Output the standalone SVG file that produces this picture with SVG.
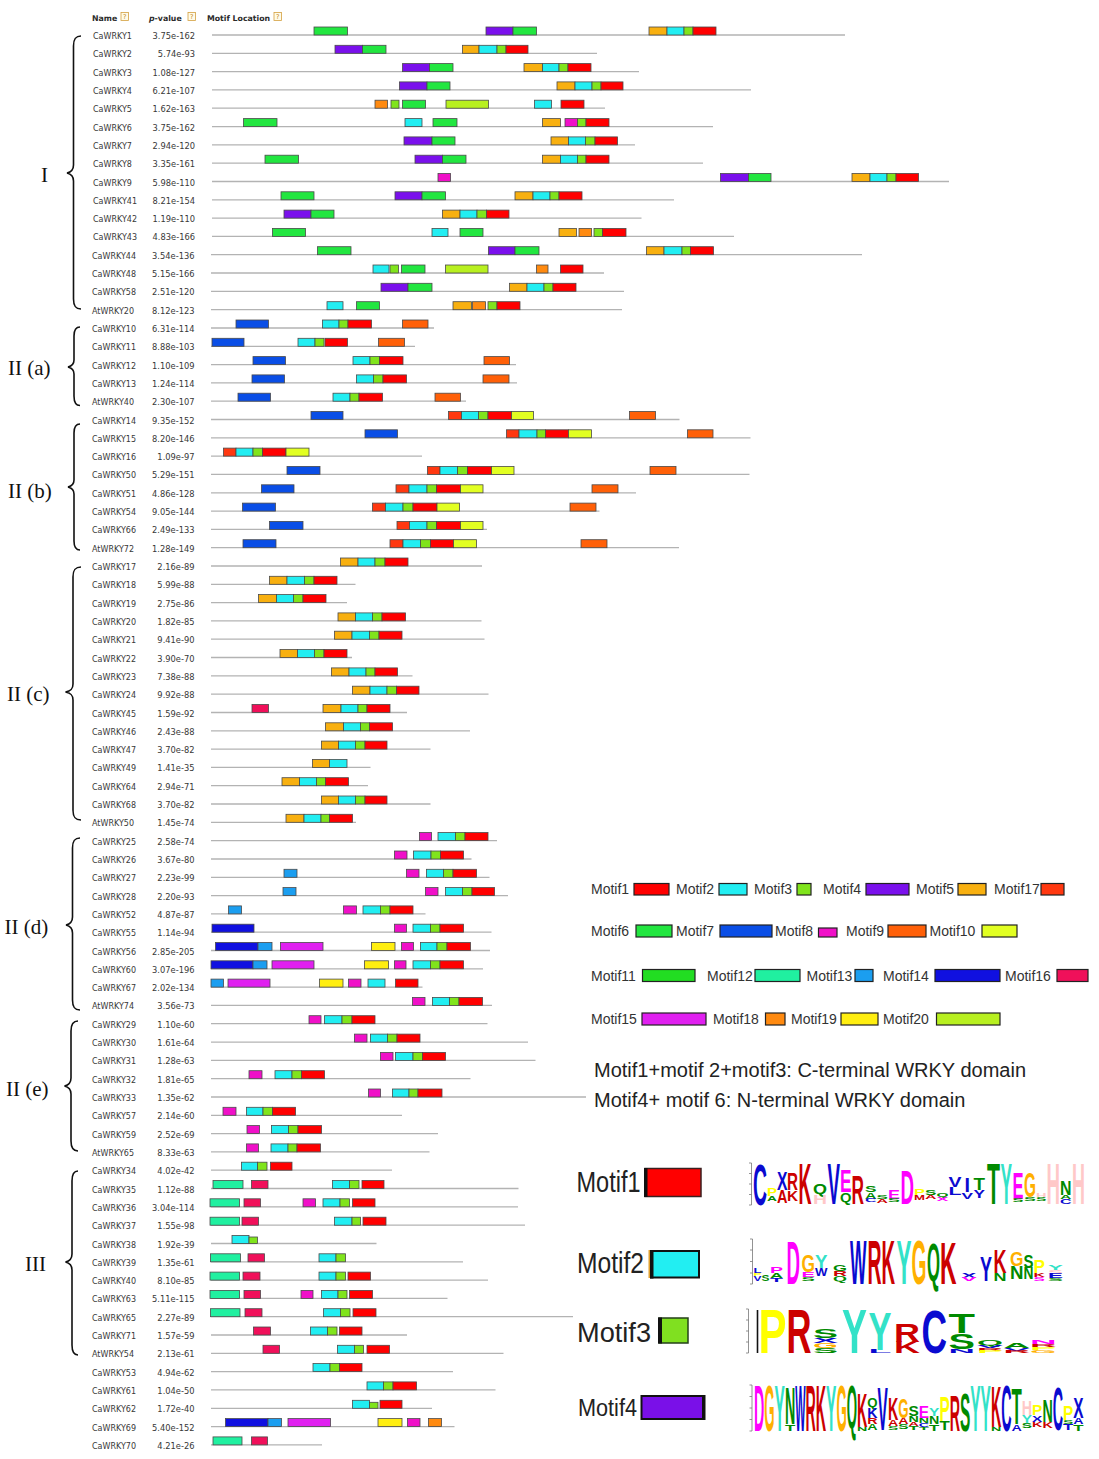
<svg xmlns="http://www.w3.org/2000/svg" width="1099" height="1459" viewBox="0 0 1099 1459">
<style>
.nm{font-family:"DejaVu Sans",Verdana,sans-serif;font-size:8px;fill:#383838}
.pv{font-family:"DejaVu Sans",Verdana,sans-serif;font-size:8.3px;fill:#383838;text-anchor:end}
.hd{font-family:"DejaVu Sans",Verdana,sans-serif;font-size:7.8px;font-weight:bold;fill:#2a2a2a}
.qi{fill:#fffbe8;stroke:#d4a040;stroke-width:.8}
.qt{font-family:"DejaVu Sans",sans-serif;font-size:6.5px;fill:#c08020;text-anchor:middle}
.bb{stroke:#b3b3b3;stroke-width:1.3}
.row rect{stroke:#4a4a4a;stroke-width:.8}
.lgd rect{stroke:#222;stroke-width:1.2}
.m1{fill:#ff0000}.m2{fill:#22eef2}.m3{fill:#80e41c}.m4{fill:#7a10ec}.m5{fill:#f8b010}
.m6{fill:#22e640}.m7{fill:#0a4ee6}.m8{fill:#f010c8}.m9{fill:#ff6008}.m10{fill:#e2ff22}
.m11{fill:#22dd22}.m12{fill:#20f0a0}.m13{fill:#1b9ef0}.m14{fill:#1010e0}.m15{fill:#e020f0}
.m16{fill:#f0105a}.m17{fill:#ff3810}.m18{fill:#ff8a10}.m19{fill:#ffee10}.m20{fill:#b8f020}
.grp{font-family:"Liberation Serif","Times New Roman",serif;font-size:21px;fill:#111}
.br{fill:none;stroke:#111;stroke-width:1.6}
.lt{font-family:"Liberation Sans",Arial,sans-serif;font-size:14px;fill:#333}
.dt{font-family:"Liberation Sans",Arial,sans-serif;font-size:20px;fill:#222}
.bt{font-family:"Liberation Sans",Arial,sans-serif;fill:#222}
.L{font-family:"Liberation Sans",Arial,sans-serif;font-weight:bold;font-size:10px}
.cb{fill:#0a0ad0}.cr{fill:#cc0000}.cg{fill:#008a00}.cy{fill:#ffff00}.cm{fill:#ff00ff}.ct{fill:#33e2c8}.co{fill:#ffb000}.cp{fill:#ffc8c8}
.ax{stroke:#777;stroke-width:.8;fill:none}
</style>

<g id="header">
<text class="hd" x="92" y="20.5">Name</text>
<rect class="qi" x="121" y="12.5" width="7.5" height="8"/><text class="qt" x="124.8" y="19.3">?</text>
<text class="hd" x="149" y="20.5"><tspan font-style="italic">p</tspan>-value</text>
<rect class="qi" x="188" y="12.5" width="7.5" height="8"/><text class="qt" x="191.8" y="19.3">?</text>
<text class="hd" x="207" y="20.5">Motif Location</text>
<rect class="qi" x="274" y="12.5" width="7.5" height="8"/><text class="qt" x="277.8" y="19.3">?</text>
</g>

<g id="group-labels">
<text class="grp" x="41" y="181.5">I</text>
<text class="grp" x="8" y="375">II (a)</text>
<text class="grp" x="8" y="498">II (b)</text>
<text class="grp" x="7" y="701">II (c)</text>
<text class="grp" x="4.5" y="934">II (d)</text>
<text class="grp" x="6" y="1096">II (e)</text>
<text class="grp" x="25" y="1271">III</text>
</g>

<g id="connectors">
<path class="br" d="M81,36 C75.5,36 73.5,39 73.5,46 L73.5,165 C73.5,170 71.5,172 67,173 C71.5,174 73.5,176 73.5,181 L73.5,299 C73.5,306 75.5,309 81,309"/>
<path class="br" d="M80,327 C76,327 74,330 74,336 L74,360 C74,364 72,366 68,367 C72,368 74,370 74,374 L74,396 C74,402 76,405.5 80,405.5"/>
<path class="br" d="M80,424 C76,424 74,427 74,433 L74,480 C74,484 72,486 68,487 C72,488 74,490 74,494 L74,541 C74,547 76,550 80,550"/>
<path class="br" d="M81,567 C75,567 73,570 73,577 L73,684 C73,689 71,691 65.5,692 C71,693 73,695 73,700 L73,810 C73,817 75,820 81,820"/>
<path class="br" d="M80,838 C74.5,838 72.5,841 72.5,848 L72.5,917 C72.5,922 70.5,924 66,925 C70.5,926 72.5,928 72.5,933 L72.5,1000 C72.5,1007 74.5,1010 80,1010"/>
<path class="br" d="M78,1021 C73,1021 71,1024 71,1031 L71,1078 C71,1083 69,1085 64.5,1086 C69,1087 71,1089 71,1094 L71,1141 C71,1148 73,1151 78,1151"/>
<path class="br" d="M78,1171 C74,1171 72,1174 72,1181 L72,1254 C72,1259 70,1261 65.5,1262 C70,1263 72,1265 72,1270 L72,1345 C72,1352 74,1355 78,1355"/>
</g>

<g id="rows">
<g id="CaWRKY1" class="row" transform="translate(0,35)"><text class="nm" x="93" y="4">CaWRKY1</text><text class="pv" x="195" y="4">3.75e-162</text><line class="bb" x1="212" x2="845"/>
<rect class="m6" x="314" y="-8" width="33.5" height="8"/><rect class="m4" x="486" y="-8" width="27" height="8"/><rect class="m6" x="513" y="-8" width="23.5" height="8"/><rect class="m5" x="649" y="-8" width="18" height="8"/><rect class="m2" x="667" y="-8" width="17" height="8"/><rect class="m3" x="684" y="-8" width="9" height="8"/><rect class="m1" x="693" y="-8" width="23" height="8"/></g>
<g id="CaWRKY2" class="row" transform="translate(0,53.3)"><text class="nm" x="93" y="4">CaWRKY2</text><text class="pv" x="195" y="4">5.74e-93</text><line class="bb" x1="212" x2="597"/>
<rect class="m4" x="335" y="-8" width="27.5" height="8"/><rect class="m6" x="362.5" y="-8" width="23.5" height="8"/><rect class="m5" x="462.5" y="-8" width="16.5" height="8"/><rect class="m2" x="479" y="-8" width="18" height="8"/><rect class="m3" x="497" y="-8" width="9" height="8"/><rect class="m1" x="506" y="-8" width="22" height="8"/></g>
<g id="CaWRKY3" class="row" transform="translate(0,71.6)"><text class="nm" x="93" y="4">CaWRKY3</text><text class="pv" x="195" y="4">1.08e-127</text><line class="bb" x1="212" x2="639"/>
<rect class="m4" x="402.5" y="-8" width="27" height="8"/><rect class="m6" x="429.5" y="-8" width="23.5" height="8"/><rect class="m5" x="524" y="-8" width="18.5" height="8"/><rect class="m2" x="542.5" y="-8" width="16.5" height="8"/><rect class="m3" x="559" y="-8" width="9" height="8"/><rect class="m1" x="568" y="-8" width="23" height="8"/></g>
<g id="CaWRKY4" class="row" transform="translate(0,89.9)"><text class="nm" x="93" y="4">CaWRKY4</text><text class="pv" x="195" y="4">6.21e-107</text><line class="bb" x1="212" x2="751"/>
<rect class="m4" x="399.5" y="-8" width="27.5" height="8"/><rect class="m6" x="427" y="-8" width="23" height="8"/><rect class="m5" x="557" y="-8" width="18" height="8"/><rect class="m2" x="575" y="-8" width="17" height="8"/><rect class="m3" x="592" y="-8" width="9" height="8"/><rect class="m1" x="601" y="-8" width="22" height="8"/></g>
<g id="CaWRKY5" class="row" transform="translate(0,108.2)"><text class="nm" x="93" y="4">CaWRKY5</text><text class="pv" x="195" y="4">1.62e-163</text><line class="bb" x1="212" x2="605"/>
<rect class="m18" x="375" y="-8" width="12.5" height="8"/><rect class="m3" x="391" y="-8" width="8" height="8"/><rect class="m6" x="402.5" y="-8" width="23" height="8"/><rect class="m20" x="446" y="-8" width="42.5" height="8"/><rect class="m2" x="534.5" y="-8" width="17" height="8"/><rect class="m1" x="561" y="-8" width="23" height="8"/></g>
<g id="CaWRKY6" class="row" transform="translate(0,126.6)"><text class="nm" x="93" y="4">CaWRKY6</text><text class="pv" x="195" y="4">3.75e-162</text><line class="bb" x1="212" x2="713"/>
<rect class="m6" x="243.5" y="-8" width="33.5" height="8"/><rect class="m2" x="405" y="-8" width="17" height="8"/><rect class="m6" x="433" y="-8" width="24" height="8"/><rect class="m5" x="542.5" y="-8" width="18" height="8"/><rect class="m8" x="565" y="-8" width="12.5" height="8"/><rect class="m3" x="577.5" y="-8" width="8.5" height="8"/><rect class="m1" x="586" y="-8" width="23" height="8"/></g>
<g id="CaWRKY7" class="row" transform="translate(0,144.9)"><text class="nm" x="93" y="4">CaWRKY7</text><text class="pv" x="195" y="4">2.94e-120</text><line class="bb" x1="212" x2="635"/>
<rect class="m4" x="404" y="-8" width="28" height="8"/><rect class="m6" x="432" y="-8" width="23" height="8"/><rect class="m5" x="551" y="-8" width="17.5" height="8"/><rect class="m2" x="568.5" y="-8" width="17" height="8"/><rect class="m3" x="585.5" y="-8" width="9.5" height="8"/><rect class="m1" x="595" y="-8" width="22.5" height="8"/></g>
<g id="CaWRKY8" class="row" transform="translate(0,163.2)"><text class="nm" x="93" y="4">CaWRKY8</text><text class="pv" x="195" y="4">3.35e-161</text><line class="bb" x1="212" x2="703"/>
<rect class="m6" x="265" y="-8" width="33.5" height="8"/><rect class="m4" x="415" y="-8" width="27.5" height="8"/><rect class="m6" x="442.5" y="-8" width="23.5" height="8"/><rect class="m5" x="542.5" y="-8" width="18" height="8"/><rect class="m2" x="560.5" y="-8" width="17" height="8"/><rect class="m3" x="577.5" y="-8" width="8.5" height="8"/><rect class="m1" x="586" y="-8" width="23" height="8"/></g>
<g id="CaWRKY9" class="row" transform="translate(0,181.5)"><text class="nm" x="93" y="4">CaWRKY9</text><text class="pv" x="195" y="4">5.98e-110</text><line class="bb" x1="212" x2="949"/>
<rect class="m8" x="438" y="-8" width="12.5" height="8"/><rect class="m4" x="720.5" y="-8" width="28" height="8"/><rect class="m6" x="748.5" y="-8" width="22.5" height="8"/><rect class="m5" x="852" y="-8" width="18" height="8"/><rect class="m2" x="870" y="-8" width="17" height="8"/><rect class="m3" x="887" y="-8" width="9" height="8"/><rect class="m1" x="896" y="-8" width="22.5" height="8"/></g>
<g id="CaWRKY41" class="row" transform="translate(0,199.8)"><text class="nm" x="93" y="4">CaWRKY41</text><text class="pv" x="195" y="4">8.21e-154</text><line class="bb" x1="212" x2="674"/>
<rect class="m6" x="281" y="-8" width="33" height="8"/><rect class="m4" x="395" y="-8" width="27" height="8"/><rect class="m6" x="422" y="-8" width="23.5" height="8"/><rect class="m5" x="515" y="-8" width="18" height="8"/><rect class="m2" x="533" y="-8" width="17" height="8"/><rect class="m3" x="550" y="-8" width="9" height="8"/><rect class="m1" x="559" y="-8" width="23" height="8"/></g>
<g id="CaWRKY42" class="row" transform="translate(0,218.1)"><text class="nm" x="93" y="4">CaWRKY42</text><text class="pv" x="195" y="4">1.19e-110</text><line class="bb" x1="212" x2="641.5"/>
<rect class="m4" x="284" y="-8" width="27" height="8"/><rect class="m6" x="311" y="-8" width="23" height="8"/><rect class="m5" x="442.5" y="-8" width="17.5" height="8"/><rect class="m2" x="460" y="-8" width="17" height="8"/><rect class="m3" x="477" y="-8" width="9.5" height="8"/><rect class="m1" x="486.5" y="-8" width="22.5" height="8"/></g>
<g id="CaWRKY43" class="row" transform="translate(0,236.4)"><text class="nm" x="93" y="4">CaWRKY43</text><text class="pv" x="195" y="4">4.83e-166</text><line class="bb" x1="212" x2="734"/>
<rect class="m6" x="272.5" y="-8" width="33" height="8"/><rect class="m2" x="432" y="-8" width="16" height="8"/><rect class="m6" x="460" y="-8" width="23" height="8"/><rect class="m5" x="559" y="-8" width="17.5" height="8"/><rect class="m18" x="579" y="-8" width="12.5" height="8"/><rect class="m3" x="594" y="-8" width="8.5" height="8"/><rect class="m1" x="602.5" y="-8" width="23.5" height="8"/></g>
<g id="CaWRKY44" class="row" transform="translate(0,254.7)"><text class="nm" x="92" y="4">CaWRKY44</text><text class="pv" x="194.5" y="4">3.54e-136</text><line class="bb" x1="211" x2="862"/>
<rect class="m6" x="317.5" y="-8" width="33.5" height="8"/><rect class="m4" x="488.5" y="-8" width="26.5" height="8"/><rect class="m6" x="515" y="-8" width="24" height="8"/><rect class="m5" x="646.5" y="-8" width="17.5" height="8"/><rect class="m2" x="664" y="-8" width="18" height="8"/><rect class="m3" x="682" y="-8" width="8.5" height="8"/><rect class="m1" x="690.5" y="-8" width="23" height="8"/></g>
<g id="CaWRKY48" class="row" transform="translate(0,273)"><text class="nm" x="92" y="4">CaWRKY48</text><text class="pv" x="194.5" y="4">5.15e-166</text><line class="bb" x1="211" x2="604"/>
<rect class="m2" x="373" y="-8" width="16" height="8"/><rect class="m3" x="390" y="-8" width="8.5" height="8"/><rect class="m6" x="401.5" y="-8" width="23.5" height="8"/><rect class="m20" x="445.5" y="-8" width="42.5" height="8"/><rect class="m18" x="536.5" y="-8" width="11.5" height="8"/><rect class="m1" x="560.5" y="-8" width="22.5" height="8"/></g>
<g id="CaWRKY58" class="row" transform="translate(0,291.3)"><text class="nm" x="92" y="4">CaWRKY58</text><text class="pv" x="194.5" y="4">2.51e-120</text><line class="bb" x1="211" x2="624"/>
<rect class="m4" x="381" y="-8" width="27" height="8"/><rect class="m6" x="408" y="-8" width="24" height="8"/><rect class="m5" x="509.5" y="-8" width="17.5" height="8"/><rect class="m2" x="527" y="-8" width="17" height="8"/><rect class="m3" x="544" y="-8" width="9" height="8"/><rect class="m1" x="553" y="-8" width="23" height="8"/></g>
<g id="AtWRKY20" class="row" transform="translate(0,309.7)"><text class="nm" x="92" y="4">AtWRKY20</text><text class="pv" x="194.5" y="4">8.12e-123</text><line class="bb" x1="211" x2="622"/>
<rect class="m2" x="327" y="-8" width="16" height="8"/><rect class="m6" x="356.5" y="-8" width="23" height="8"/><rect class="m5" x="453" y="-8" width="18.5" height="8"/><rect class="m18" x="472.5" y="-8" width="13" height="8"/><rect class="m3" x="488" y="-8" width="9" height="8"/><rect class="m1" x="497" y="-8" width="23" height="8"/></g>

<g id="CaWRKY10" class="row" transform="translate(0,328)"><text class="nm" x="92" y="4">CaWRKY10</text><text class="pv" x="194.5" y="4">6.31e-114</text><line class="bb" x1="211" x2="434"/>
<rect class="m7" x="236" y="-8" width="32.5" height="8"/><rect class="m2" x="322.5" y="-8" width="16.5" height="8"/><rect class="m3" x="339" y="-8" width="9" height="8"/><rect class="m1" x="348" y="-8" width="23.5" height="8"/><rect class="m9" x="402.5" y="-8" width="25.5" height="8"/></g>
<g id="CaWRKY11" class="row" transform="translate(0,346.3)"><text class="nm" x="92" y="4">CaWRKY11</text><text class="pv" x="194.5" y="4">8.88e-103</text><line class="bb" x1="211" x2="415"/>
<rect class="m7" x="212" y="-8" width="32" height="8"/><rect class="m2" x="298" y="-8" width="17" height="8"/><rect class="m3" x="315" y="-8" width="9" height="8"/><rect class="m1" x="325" y="-8" width="22.5" height="8"/><rect class="m9" x="378.5" y="-8" width="26" height="8"/></g>
<g id="CaWRKY12" class="row" transform="translate(0,364.6)"><text class="nm" x="92" y="4">CaWRKY12</text><text class="pv" x="194.5" y="4">1.10e-109</text><line class="bb" x1="211" x2="516"/>
<rect class="m7" x="253" y="-8" width="32.5" height="8"/><rect class="m2" x="353" y="-8" width="17" height="8"/><rect class="m3" x="370" y="-8" width="9.5" height="8"/><rect class="m1" x="379.5" y="-8" width="23.5" height="8"/><rect class="m9" x="484" y="-8" width="25.5" height="8"/></g>
<g id="CaWRKY13" class="row" transform="translate(0,382.9)"><text class="nm" x="92" y="4">CaWRKY13</text><text class="pv" x="194.5" y="4">1.24e-114</text><line class="bb" x1="211" x2="517"/>
<rect class="m7" x="252" y="-8" width="32.5" height="8"/><rect class="m2" x="356.5" y="-8" width="17" height="8"/><rect class="m3" x="373.5" y="-8" width="9.5" height="8"/><rect class="m1" x="383" y="-8" width="23.5" height="8"/><rect class="m9" x="483" y="-8" width="26" height="8"/></g>
<g id="AtWRKY40" class="row" transform="translate(0,401.2)"><text class="nm" x="92" y="4">AtWRKY40</text><text class="pv" x="194.5" y="4">2.30e-107</text><line class="bb" x1="211" x2="466"/>
<rect class="m7" x="238" y="-8" width="32.5" height="8"/><rect class="m2" x="333" y="-8" width="17" height="8"/><rect class="m3" x="350" y="-8" width="9" height="8"/><rect class="m1" x="359" y="-8" width="23.5" height="8"/><rect class="m9" x="435" y="-8" width="25.5" height="8"/></g>

<g id="CaWRKY14" class="row" transform="translate(0,419.5)"><text class="nm" x="92" y="4">CaWRKY14</text><text class="pv" x="194.5" y="4">9.35e-152</text><line class="bb" x1="211" x2="679.5"/>
<rect class="m7" x="311" y="-8" width="32" height="8"/><rect class="m17" x="448.5" y="-8" width="13" height="8"/><rect class="m2" x="461.5" y="-8" width="17" height="8"/><rect class="m3" x="478.5" y="-8" width="9.5" height="8"/><rect class="m1" x="488" y="-8" width="23.5" height="8"/><rect class="m10" x="511.5" y="-8" width="22" height="8"/><rect class="m9" x="629.5" y="-8" width="26" height="8"/></g>
<g id="CaWRKY15" class="row" transform="translate(0,437.8)"><text class="nm" x="92" y="4">CaWRKY15</text><text class="pv" x="194.5" y="4">8.20e-146</text><line class="bb" x1="211" x2="750.5"/>
<rect class="m7" x="365" y="-8" width="32.5" height="8"/><rect class="m17" x="506.5" y="-8" width="12.5" height="8"/><rect class="m2" x="519" y="-8" width="18" height="8"/><rect class="m3" x="537" y="-8" width="8.5" height="8"/><rect class="m1" x="545.5" y="-8" width="23" height="8"/><rect class="m10" x="568.5" y="-8" width="23" height="8"/><rect class="m9" x="687.5" y="-8" width="25.5" height="8"/></g>
<g id="CaWRKY16" class="row" transform="translate(0,456.1)"><text class="nm" x="92" y="4">CaWRKY16</text><text class="pv" x="194.5" y="4">1.09e-97</text><line class="bb" x1="211" x2="422"/>
<rect class="m17" x="223.5" y="-8" width="12.5" height="8"/><rect class="m2" x="236" y="-8" width="17" height="8"/><rect class="m3" x="253" y="-8" width="9.5" height="8"/><rect class="m1" x="262.5" y="-8" width="23.5" height="8"/><rect class="m10" x="286" y="-8" width="23" height="8"/></g>
<g id="CaWRKY50" class="row" transform="translate(0,474.4)"><text class="nm" x="92" y="4">CaWRKY50</text><text class="pv" x="194.5" y="4">5.29e-151</text><line class="bb" x1="211" x2="749.5"/>
<rect class="m7" x="287" y="-8" width="33" height="8"/><rect class="m17" x="427.5" y="-8" width="12.5" height="8"/><rect class="m2" x="440" y="-8" width="17.5" height="8"/><rect class="m3" x="457.5" y="-8" width="10" height="8"/><rect class="m1" x="467.5" y="-8" width="24" height="8"/><rect class="m10" x="491.5" y="-8" width="22.5" height="8"/><rect class="m9" x="650" y="-8" width="26" height="8"/></g>
<g id="CaWRKY51" class="row" transform="translate(0,492.8)"><text class="nm" x="92" y="4">CaWRKY51</text><text class="pv" x="194.5" y="4">4.86e-128</text><line class="bb" x1="211" x2="636"/>
<rect class="m7" x="261.5" y="-8" width="32.5" height="8"/><rect class="m17" x="396" y="-8" width="13" height="8"/><rect class="m2" x="409" y="-8" width="18" height="8"/><rect class="m3" x="427" y="-8" width="9.5" height="8"/><rect class="m1" x="436.5" y="-8" width="24" height="8"/><rect class="m10" x="460.5" y="-8" width="22.5" height="8"/><rect class="m9" x="592" y="-8" width="26" height="8"/></g>
<g id="CaWRKY54" class="row" transform="translate(0,511.1)"><text class="nm" x="92" y="4">CaWRKY54</text><text class="pv" x="194.5" y="4">9.05e-144</text><line class="bb" x1="211" x2="599.5"/>
<rect class="m7" x="242.5" y="-8" width="33" height="8"/><rect class="m17" x="372.5" y="-8" width="13" height="8"/><rect class="m2" x="385.5" y="-8" width="17.5" height="8"/><rect class="m3" x="403" y="-8" width="10" height="8"/><rect class="m1" x="413" y="-8" width="24" height="8"/><rect class="m10" x="437" y="-8" width="22.5" height="8"/><rect class="m9" x="570" y="-8" width="26" height="8"/></g>
<g id="CaWRKY66" class="row" transform="translate(0,529.4)"><text class="nm" x="92" y="4">CaWRKY66</text><text class="pv" x="194.5" y="4">2.49e-133</text><line class="bb" x1="211" x2="487"/>
<rect class="m7" x="269.5" y="-8" width="33.5" height="8"/><rect class="m17" x="397" y="-8" width="12.5" height="8"/><rect class="m2" x="409.5" y="-8" width="17.5" height="8"/><rect class="m3" x="427" y="-8" width="9.5" height="8"/><rect class="m1" x="436.5" y="-8" width="24" height="8"/><rect class="m10" x="460.5" y="-8" width="22.5" height="8"/></g>
<g id="AtWRKY72" class="row" transform="translate(0,547.7)"><text class="nm" x="92" y="4">AtWRKY72</text><text class="pv" x="194.5" y="4">1.28e-149</text><line class="bb" x1="211" x2="679"/>
<rect class="m7" x="243" y="-8" width="33" height="8"/><rect class="m17" x="390" y="-8" width="13" height="8"/><rect class="m2" x="403" y="-8" width="17.5" height="8"/><rect class="m3" x="420.5" y="-8" width="10" height="8"/><rect class="m1" x="430.5" y="-8" width="23" height="8"/><rect class="m10" x="453.5" y="-8" width="23" height="8"/><rect class="m9" x="581" y="-8" width="26" height="8"/></g>

<g id="CaWRKY17" class="row" transform="translate(0,566)"><text class="nm" x="92" y="4">CaWRKY17</text><text class="pv" x="194.5" y="4">2.16e-89</text><line class="bb" x1="211" x2="482"/>
<rect class="m5" x="340.5" y="-8" width="17.5" height="8"/><rect class="m2" x="358" y="-8" width="17" height="8"/><rect class="m3" x="375" y="-8" width="10" height="8"/><rect class="m1" x="385" y="-8" width="23" height="8"/></g>
<g id="CaWRKY18" class="row" transform="translate(0,584.3)"><text class="nm" x="92" y="4">CaWRKY18</text><text class="pv" x="194.5" y="4">5.99e-88</text><line class="bb" x1="211" x2="355.5"/>
<rect class="m5" x="269.5" y="-8" width="17.5" height="8"/><rect class="m2" x="287" y="-8" width="17.5" height="8"/><rect class="m3" x="304.5" y="-8" width="9.5" height="8"/><rect class="m1" x="314" y="-8" width="23" height="8"/></g>
<g id="CaWRKY19" class="row" transform="translate(0,602.6)"><text class="nm" x="92" y="4">CaWRKY19</text><text class="pv" x="194.5" y="4">2.75e-86</text><line class="bb" x1="211" x2="347"/>
<rect class="m5" x="258.5" y="-8" width="18" height="8"/><rect class="m2" x="276.5" y="-8" width="17" height="8"/><rect class="m3" x="293.5" y="-8" width="9.5" height="8"/><rect class="m1" x="303" y="-8" width="23" height="8"/></g>
<g id="CaWRKY20" class="row" transform="translate(0,620.9)"><text class="nm" x="92" y="4">CaWRKY20</text><text class="pv" x="194.5" y="4">1.82e-85</text><line class="bb" x1="211" x2="481.5"/>
<rect class="m5" x="338" y="-8" width="17.5" height="8"/><rect class="m2" x="355.5" y="-8" width="17" height="8"/><rect class="m3" x="372.5" y="-8" width="9.5" height="8"/><rect class="m1" x="382" y="-8" width="23.5" height="8"/></g>
<g id="CaWRKY21" class="row" transform="translate(0,639.2)"><text class="nm" x="92" y="4">CaWRKY21</text><text class="pv" x="194.5" y="4">9.41e-90</text><line class="bb" x1="211" x2="484.5"/>
<rect class="m5" x="334.5" y="-8" width="17.5" height="8"/><rect class="m2" x="352" y="-8" width="17.5" height="8"/><rect class="m3" x="369.5" y="-8" width="9.5" height="8"/><rect class="m1" x="379" y="-8" width="23" height="8"/></g>
<g id="CaWRKY22" class="row" transform="translate(0,657.5)"><text class="nm" x="92" y="4">CaWRKY22</text><text class="pv" x="194.5" y="4">3.90e-70</text><line class="bb" x1="211" x2="352"/>
<rect class="m5" x="280" y="-8" width="17.5" height="8"/><rect class="m2" x="297.5" y="-8" width="17" height="8"/><rect class="m3" x="314.5" y="-8" width="9.5" height="8"/><rect class="m1" x="324" y="-8" width="23" height="8"/></g>
<g id="CaWRKY23" class="row" transform="translate(0,675.9)"><text class="nm" x="92" y="4">CaWRKY23</text><text class="pv" x="194.5" y="4">7.38e-88</text><line class="bb" x1="211" x2="412.5"/>
<rect class="m5" x="331.5" y="-8" width="17.5" height="8"/><rect class="m2" x="349" y="-8" width="17" height="8"/><rect class="m3" x="366" y="-8" width="9" height="8"/><rect class="m1" x="375" y="-8" width="22.5" height="8"/></g>
<g id="CaWRKY24" class="row" transform="translate(0,694.2)"><text class="nm" x="92" y="4">CaWRKY24</text><text class="pv" x="194.5" y="4">9.92e-88</text><line class="bb" x1="211" x2="488.5"/>
<rect class="m5" x="352.5" y="-8" width="17.5" height="8"/><rect class="m2" x="370" y="-8" width="17" height="8"/><rect class="m3" x="387" y="-8" width="9.5" height="8"/><rect class="m1" x="396.5" y="-8" width="22.5" height="8"/></g>
<g id="CaWRKY45" class="row" transform="translate(0,712.5)"><text class="nm" x="92" y="4">CaWRKY45</text><text class="pv" x="194.5" y="4">1.59e-92</text><line class="bb" x1="211" x2="407"/>
<rect class="m16" x="252" y="-8" width="16.5" height="8"/><rect class="m5" x="323" y="-8" width="18" height="8"/><rect class="m2" x="341" y="-8" width="17" height="8"/><rect class="m3" x="358" y="-8" width="9" height="8"/><rect class="m1" x="367" y="-8" width="23" height="8"/></g>
<g id="CaWRKY46" class="row" transform="translate(0,730.8)"><text class="nm" x="92" y="4">CaWRKY46</text><text class="pv" x="194.5" y="4">2.43e-88</text><line class="bb" x1="211" x2="470"/>
<rect class="m5" x="325.5" y="-8" width="18" height="8"/><rect class="m2" x="343.5" y="-8" width="17" height="8"/><rect class="m3" x="360.5" y="-8" width="9" height="8"/><rect class="m1" x="369.5" y="-8" width="23" height="8"/></g>
<g id="CaWRKY47" class="row" transform="translate(0,749.1)"><text class="nm" x="92" y="4">CaWRKY47</text><text class="pv" x="194.5" y="4">3.70e-82</text><line class="bb" x1="211" x2="430.5"/>
<rect class="m5" x="321.5" y="-8" width="17" height="8"/><rect class="m2" x="338.5" y="-8" width="17" height="8"/><rect class="m3" x="355.5" y="-8" width="9.5" height="8"/><rect class="m1" x="365" y="-8" width="22" height="8"/></g>
<g id="CaWRKY49" class="row" transform="translate(0,767.4)"><text class="nm" x="92" y="4">CaWRKY49</text><text class="pv" x="194.5" y="4">1.41e-35</text><line class="bb" x1="211" x2="370.5"/>
<rect class="m5" x="312.5" y="-8" width="17" height="8"/><rect class="m2" x="329.5" y="-8" width="17.5" height="8"/></g>
<g id="CaWRKY64" class="row" transform="translate(0,785.7)"><text class="nm" x="92" y="4">CaWRKY64</text><text class="pv" x="194.5" y="4">2.94e-71</text><line class="bb" x1="211" x2="368"/>
<rect class="m5" x="282" y="-8" width="17.5" height="8"/><rect class="m2" x="299.5" y="-8" width="17" height="8"/><rect class="m3" x="316.5" y="-8" width="9" height="8"/><rect class="m1" x="325.5" y="-8" width="23" height="8"/></g>
<g id="CaWRKY68" class="row" transform="translate(0,804)"><text class="nm" x="92" y="4">CaWRKY68</text><text class="pv" x="194.5" y="4">3.70e-82</text><line class="bb" x1="211" x2="430.5"/>
<rect class="m5" x="321.5" y="-8" width="17" height="8"/><rect class="m2" x="338.5" y="-8" width="17" height="8"/><rect class="m3" x="355.5" y="-8" width="9.5" height="8"/><rect class="m1" x="365" y="-8" width="22" height="8"/></g>
<g id="AtWRKY50" class="row" transform="translate(0,822.3)"><text class="nm" x="92" y="4">AtWRKY50</text><text class="pv" x="194.5" y="4">1.45e-74</text><line class="bb" x1="211" x2="356"/>
<rect class="m5" x="286" y="-8" width="18" height="8"/><rect class="m2" x="304" y="-8" width="17" height="8"/><rect class="m3" x="321" y="-8" width="8.5" height="8"/><rect class="m1" x="329.5" y="-8" width="23" height="8"/></g>

<g id="CaWRKY25" class="row" transform="translate(0,840.6)"><text class="nm" x="92" y="4">CaWRKY25</text><text class="pv" x="194.5" y="4">2.58e-74</text><line class="bb" x1="211" x2="497"/>
<rect class="m8" x="419.5" y="-8" width="12" height="8"/><rect class="m2" x="438" y="-8" width="17.5" height="8"/><rect class="m3" x="455.5" y="-8" width="9.5" height="8"/><rect class="m1" x="465" y="-8" width="23" height="8"/></g>
<g id="CaWRKY26" class="row" transform="translate(0,859)"><text class="nm" x="92" y="4">CaWRKY26</text><text class="pv" x="194.5" y="4">3.67e-80</text><line class="bb" x1="211" x2="471.5"/>
<rect class="m8" x="394.5" y="-8" width="12.5" height="8"/><rect class="m2" x="413.5" y="-8" width="17.5" height="8"/><rect class="m3" x="431" y="-8" width="9.5" height="8"/><rect class="m1" x="440.5" y="-8" width="23" height="8"/></g>
<g id="CaWRKY27" class="row" transform="translate(0,877.3)"><text class="nm" x="92" y="4">CaWRKY27</text><text class="pv" x="194.5" y="4">2.23e-99</text><line class="bb" x1="211" x2="489.5"/>
<rect class="m13" x="284" y="-8" width="13" height="8"/><rect class="m8" x="406.5" y="-8" width="12.5" height="8"/><rect class="m2" x="426.5" y="-8" width="17" height="8"/><rect class="m3" x="443.5" y="-8" width="9.5" height="8"/><rect class="m1" x="453" y="-8" width="23.5" height="8"/></g>
<g id="CaWRKY28" class="row" transform="translate(0,895.6)"><text class="nm" x="92" y="4">CaWRKY28</text><text class="pv" x="194.5" y="4">2.20e-93</text><line class="bb" x1="211" x2="508"/>
<rect class="m13" x="283" y="-8" width="13" height="8"/><rect class="m8" x="425.5" y="-8" width="12.5" height="8"/><rect class="m2" x="445.5" y="-8" width="17" height="8"/><rect class="m3" x="462.5" y="-8" width="9.5" height="8"/><rect class="m1" x="472" y="-8" width="22.5" height="8"/></g>
<g id="CaWRKY52" class="row" transform="translate(0,913.9)"><text class="nm" x="92" y="4">CaWRKY52</text><text class="pv" x="194.5" y="4">4.87e-87</text><line class="bb" x1="211" x2="425.5"/>
<rect class="m13" x="228.5" y="-8" width="13" height="8"/><rect class="m8" x="343.5" y="-8" width="13" height="8"/><rect class="m2" x="363" y="-8" width="17.5" height="8"/><rect class="m3" x="380.5" y="-8" width="9.5" height="8"/><rect class="m1" x="390" y="-8" width="23" height="8"/></g>
<g id="CaWRKY55" class="row" transform="translate(0,932.2)"><text class="nm" x="92" y="4">CaWRKY55</text><text class="pv" x="194.5" y="4">1.14e-94</text><line class="bb" x1="211" x2="491.5"/>
<rect class="m14" x="212" y="-8" width="42" height="8"/><rect class="m8" x="394.5" y="-8" width="12" height="8"/><rect class="m2" x="413" y="-8" width="17.5" height="8"/><rect class="m3" x="430.5" y="-8" width="9.5" height="8"/><rect class="m1" x="440" y="-8" width="23.5" height="8"/></g>
<g id="CaWRKY56" class="row" transform="translate(0,950.5)"><text class="nm" x="92" y="4">CaWRKY56</text><text class="pv" x="194.5" y="4">2.85e-205</text><line class="bb" x1="211" x2="490"/>
<rect class="m14" x="215.5" y="-8" width="42.5" height="8"/><rect class="m13" x="258" y="-8" width="14" height="8"/><rect class="m15" x="280.5" y="-8" width="42.5" height="8"/><rect class="m19" x="371.5" y="-8" width="23.5" height="8"/><rect class="m8" x="401.5" y="-8" width="12" height="8"/><rect class="m2" x="420.5" y="-8" width="16.5" height="8"/><rect class="m3" x="437" y="-8" width="10" height="8"/><rect class="m1" x="447" y="-8" width="23.5" height="8"/></g>
<g id="CaWRKY60" class="row" transform="translate(0,968.8)"><text class="nm" x="92" y="4">CaWRKY60</text><text class="pv" x="194.5" y="4">3.07e-196</text><line class="bb" x1="211" x2="483"/>
<rect class="m14" x="211" y="-8" width="42" height="8"/><rect class="m13" x="253" y="-8" width="14" height="8"/><rect class="m15" x="272" y="-8" width="42" height="8"/><rect class="m19" x="364.5" y="-8" width="24" height="8"/><rect class="m8" x="394.5" y="-8" width="11.5" height="8"/><rect class="m2" x="413" y="-8" width="17.5" height="8"/><rect class="m3" x="430.5" y="-8" width="9.5" height="8"/><rect class="m1" x="440" y="-8" width="23.5" height="8"/></g>
<g id="CaWRKY67" class="row" transform="translate(0,987.1)"><text class="nm" x="92" y="4">CaWRKY67</text><text class="pv" x="194.5" y="4">2.02e-134</text><line class="bb" x1="211" x2="422.5"/>
<rect class="m13" x="211" y="-8" width="12.5" height="8"/><rect class="m15" x="228" y="-8" width="42" height="8"/><rect class="m19" x="319.5" y="-8" width="23.5" height="8"/><rect class="m8" x="348.5" y="-8" width="12.5" height="8"/><rect class="m2" x="368" y="-8" width="17" height="8"/><rect class="m1" x="395.5" y="-8" width="22.5" height="8"/></g>
<g id="AtWRKY74" class="row" transform="translate(0,1005.4)"><text class="nm" x="92" y="4">AtWRKY74</text><text class="pv" x="194.5" y="4">3.56e-73</text><line class="bb" x1="211" x2="492"/>
<rect class="m8" x="412.5" y="-8" width="12.5" height="8"/><rect class="m2" x="432.5" y="-8" width="17" height="8"/><rect class="m3" x="449.5" y="-8" width="9.5" height="8"/><rect class="m1" x="459" y="-8" width="23.5" height="8"/></g>

<g id="CaWRKY29" class="row" transform="translate(0,1023.7)"><text class="nm" x="92" y="4">CaWRKY29</text><text class="pv" x="194.5" y="4">1.10e-60</text><line class="bb" x1="211" x2="487.5"/>
<rect class="m8" x="309" y="-8" width="12" height="8"/><rect class="m2" x="324.5" y="-8" width="17.5" height="8"/><rect class="m3" x="342" y="-8" width="10" height="8"/><rect class="m1" x="352" y="-8" width="23" height="8"/></g>
<g id="CaWRKY30" class="row" transform="translate(0,1042.1)"><text class="nm" x="92" y="4">CaWRKY30</text><text class="pv" x="194.5" y="4">1.61e-64</text><line class="bb" x1="211" x2="528"/>
<rect class="m8" x="354.5" y="-8" width="12.5" height="8"/><rect class="m2" x="370.5" y="-8" width="17" height="8"/><rect class="m3" x="387.5" y="-8" width="9.5" height="8"/><rect class="m1" x="397" y="-8" width="23" height="8"/></g>
<g id="CaWRKY31" class="row" transform="translate(0,1060.4)"><text class="nm" x="92" y="4">CaWRKY31</text><text class="pv" x="194.5" y="4">1.28e-63</text><line class="bb" x1="211" x2="535.5"/>
<rect class="m8" x="380.5" y="-8" width="12.5" height="8"/><rect class="m2" x="395.5" y="-8" width="17.5" height="8"/><rect class="m3" x="413" y="-8" width="9.5" height="8"/><rect class="m1" x="422.5" y="-8" width="23" height="8"/></g>
<g id="CaWRKY32" class="row" transform="translate(0,1078.7)"><text class="nm" x="92" y="4">CaWRKY32</text><text class="pv" x="194.5" y="4">1.81e-65</text><line class="bb" x1="211" x2="470.5"/>
<rect class="m8" x="249" y="-8" width="13" height="8"/><rect class="m2" x="275" y="-8" width="17" height="8"/><rect class="m3" x="292" y="-8" width="9.5" height="8"/><rect class="m1" x="301.5" y="-8" width="23" height="8"/></g>
<g id="CaWRKY33" class="row" transform="translate(0,1097)"><text class="nm" x="92" y="4">CaWRKY33</text><text class="pv" x="194.5" y="4">1.35e-62</text><line class="bb" x1="211" x2="586"/>
<rect class="m8" x="368.5" y="-8" width="12" height="8"/><rect class="m2" x="392.5" y="-8" width="16.5" height="8"/><rect class="m3" x="409" y="-8" width="9" height="8"/><rect class="m1" x="418" y="-8" width="24" height="8"/></g>
<g id="CaWRKY57" class="row" transform="translate(0,1115.3)"><text class="nm" x="92" y="4">CaWRKY57</text><text class="pv" x="194.5" y="4">2.14e-60</text><line class="bb" x1="211" x2="402"/>
<rect class="m8" x="223" y="-8" width="13" height="8"/><rect class="m2" x="246.5" y="-8" width="16.5" height="8"/><rect class="m3" x="263" y="-8" width="9.5" height="8"/><rect class="m1" x="272.5" y="-8" width="23" height="8"/></g>
<g id="CaWRKY59" class="row" transform="translate(0,1133.6)"><text class="nm" x="92" y="4">CaWRKY59</text><text class="pv" x="194.5" y="4">2.52e-69</text><line class="bb" x1="211" x2="438"/>
<rect class="m8" x="247" y="-8" width="12.5" height="8"/><rect class="m2" x="271.5" y="-8" width="17" height="8"/><rect class="m3" x="288.5" y="-8" width="9.5" height="8"/><rect class="m1" x="298" y="-8" width="23.5" height="8"/></g>
<g id="AtWRKY65" class="row" transform="translate(0,1151.9)"><text class="nm" x="92" y="4">AtWRKY65</text><text class="pv" x="194.5" y="4">8.33e-63</text><line class="bb" x1="211" x2="429.5"/>
<rect class="m8" x="246.5" y="-8" width="12" height="8"/><rect class="m2" x="271" y="-8" width="17" height="8"/><rect class="m3" x="288" y="-8" width="9" height="8"/><rect class="m1" x="297" y="-8" width="23.5" height="8"/></g>

<g id="CaWRKY34" class="row" transform="translate(0,1170.2)"><text class="nm" x="92" y="4">CaWRKY34</text><text class="pv" x="194.5" y="4">4.02e-42</text><line class="bb" x1="211" x2="392"/>
<rect class="m2" x="241.5" y="-8" width="16" height="8"/><rect class="m3" x="257.5" y="-8" width="9.5" height="8"/><rect class="m1" x="270.5" y="-8" width="21.5" height="8"/></g>
<g id="CaWRKY35" class="row" transform="translate(0,1188.5)"><text class="nm" x="92" y="4">CaWRKY35</text><text class="pv" x="194.5" y="4">1.12e-88</text><line class="bb" x1="211" x2="518.5"/>
<rect class="m12" x="213" y="-8" width="30" height="8"/><rect class="m16" x="251.5" y="-8" width="16.5" height="8"/><rect class="m2" x="332.5" y="-8" width="17" height="8"/><rect class="m3" x="349.5" y="-8" width="9.5" height="8"/><rect class="m1" x="362" y="-8" width="22" height="8"/></g>
<g id="CaWRKY36" class="row" transform="translate(0,1206.8)"><text class="nm" x="92" y="4">CaWRKY36</text><text class="pv" x="194.5" y="4">3.04e-114</text><line class="bb" x1="211" x2="518"/>
<rect class="m12" x="210" y="-8" width="29.5" height="8"/><rect class="m16" x="244" y="-8" width="16.5" height="8"/><rect class="m8" x="303" y="-8" width="12.5" height="8"/><rect class="m2" x="323" y="-8" width="17" height="8"/><rect class="m3" x="340" y="-8" width="9.5" height="8"/><rect class="m1" x="352.5" y="-8" width="22.5" height="8"/></g>
<g id="CaWRKY37" class="row" transform="translate(0,1225.2)"><text class="nm" x="92" y="4">CaWRKY37</text><text class="pv" x="194.5" y="4">1.55e-98</text><line class="bb" x1="211" x2="525"/>
<rect class="m12" x="210" y="-8" width="29.5" height="8"/><rect class="m16" x="242" y="-8" width="16.5" height="8"/><rect class="m2" x="334.5" y="-8" width="17.5" height="8"/><rect class="m3" x="352" y="-8" width="8.5" height="8"/><rect class="m1" x="363" y="-8" width="23" height="8"/></g>
<g id="CaWRKY38" class="row" transform="translate(0,1243.5)"><text class="nm" x="92" y="4">CaWRKY38</text><text class="pv" x="194.5" y="4">1.92e-39</text><line class="bb" x1="211" x2="376.5"/>
<rect class="m2" x="232" y="-8" width="17" height="8"/><rect class="m3" x="249" y="-6.5" width="8.5" height="6.5"/></g>
<g id="CaWRKY39" class="row" transform="translate(0,1261.8)"><text class="nm" x="92" y="4">CaWRKY39</text><text class="pv" x="194.5" y="4">1.35e-61</text><line class="bb" x1="211" x2="463"/>
<rect class="m12" x="210.5" y="-8" width="30" height="8"/><rect class="m16" x="248" y="-8" width="16.5" height="8"/><rect class="m2" x="319" y="-8" width="17" height="8"/><rect class="m3" x="336" y="-8" width="9.5" height="8"/></g>
<g id="CaWRKY40" class="row" transform="translate(0,1280.1)"><text class="nm" x="92" y="4">CaWRKY40</text><text class="pv" x="194.5" y="4">8.10e-85</text><line class="bb" x1="211" x2="488"/>
<rect class="m12" x="210" y="-8" width="29.5" height="8"/><rect class="m16" x="243" y="-8" width="17" height="8"/><rect class="m2" x="319" y="-8" width="17" height="8"/><rect class="m3" x="336" y="-8" width="9.5" height="8"/><rect class="m1" x="348" y="-8" width="22.5" height="8"/></g>
<g id="CaWRKY63" class="row" transform="translate(0,1298.4)"><text class="nm" x="92" y="4">CaWRKY63</text><text class="pv" x="194.5" y="4">5.11e-115</text><line class="bb" x1="211" x2="447.5"/>
<rect class="m12" x="210" y="-8" width="29.5" height="8"/><rect class="m16" x="244" y="-8" width="16.5" height="8"/><rect class="m8" x="301" y="-8" width="12" height="8"/><rect class="m2" x="321.5" y="-8" width="16.5" height="8"/><rect class="m3" x="338" y="-8" width="9" height="8"/><rect class="m1" x="349.5" y="-8" width="23" height="8"/></g>
<g id="CaWRKY65" class="row" transform="translate(0,1316.7)"><text class="nm" x="92" y="4">CaWRKY65</text><text class="pv" x="194.5" y="4">2.27e-89</text><line class="bb" x1="211" x2="573"/>
<rect class="m12" x="210.5" y="-8" width="29.5" height="8"/><rect class="m16" x="245" y="-8" width="17" height="8"/><rect class="m2" x="323.5" y="-8" width="17" height="8"/><rect class="m3" x="340.5" y="-8" width="9.5" height="8"/><rect class="m1" x="353" y="-8" width="23" height="8"/></g>
<g id="CaWRKY71" class="row" transform="translate(0,1335)"><text class="nm" x="92" y="4">CaWRKY71</text><text class="pv" x="194.5" y="4">1.57e-59</text><line class="bb" x1="211" x2="407"/>
<rect class="m16" x="253.5" y="-8" width="17" height="8"/><rect class="m2" x="310.5" y="-8" width="17" height="8"/><rect class="m3" x="327.5" y="-8" width="9.5" height="8"/><rect class="m1" x="339.5" y="-8" width="22.5" height="8"/></g>
<g id="AtWRKY54" class="row" transform="translate(0,1353.3)"><text class="nm" x="92" y="4">AtWRKY54</text><text class="pv" x="194.5" y="4">2.13e-61</text><line class="bb" x1="211" x2="503.5"/>
<rect class="m16" x="263" y="-8" width="16.5" height="8"/><rect class="m2" x="337.5" y="-8" width="17" height="8"/><rect class="m3" x="354.5" y="-8" width="9" height="8"/><rect class="m1" x="367" y="-8" width="22.5" height="8"/></g>
<g id="CaWRKY53" class="row" transform="translate(0,1371.6)"><text class="nm" x="92" y="4">CaWRKY53</text><text class="pv" x="194.5" y="4">4.94e-62</text><line class="bb" x1="211" x2="453"/>
<rect class="m2" x="313" y="-8" width="17" height="8"/><rect class="m3" x="330" y="-8" width="9.5" height="8"/><rect class="m1" x="339.5" y="-8" width="22.5" height="8"/></g>
<g id="CaWRKY61" class="row" transform="translate(0,1389.9)"><text class="nm" x="92" y="4">CaWRKY61</text><text class="pv" x="194.5" y="4">1.04e-50</text><line class="bb" x1="211" x2="495.5"/>
<rect class="m2" x="367" y="-8" width="16.5" height="8"/><rect class="m3" x="383.5" y="-8" width="9.5" height="8"/><rect class="m1" x="393" y="-8" width="23.5" height="8"/></g>
<g id="CaWRKY62" class="row" transform="translate(0,1408.3)"><text class="nm" x="92" y="4">CaWRKY62</text><text class="pv" x="194.5" y="4">1.72e-40</text><line class="bb" x1="211" x2="432"/>
<rect class="m2" x="352.5" y="-8" width="17" height="8"/><rect class="m3" x="369.5" y="-6" width="8.5" height="6"/><rect class="m1" x="380" y="-8" width="22" height="8"/></g>
<g id="CaWRKY69" class="row" transform="translate(0,1426.6)"><text class="nm" x="92" y="4">CaWRKY69</text><text class="pv" x="194.5" y="4">5.40e-152</text><line class="bb" x1="211" x2="454.5"/>
<rect class="m14" x="225.5" y="-8" width="42.5" height="8"/><rect class="m13" x="268" y="-8" width="13.5" height="8"/><rect class="m15" x="288" y="-8" width="42.5" height="8"/><rect class="m19" x="378" y="-8" width="24" height="8"/><rect class="m8" x="407.5" y="-8" width="12.5" height="8"/><rect class="m18" x="428.5" y="-8" width="13" height="8"/></g>
<g id="CaWRKY70" class="row" transform="translate(0,1444.9)"><text class="nm" x="92" y="4">CaWRKY70</text><text class="pv" x="194.5" y="4">4.21e-26</text><line class="bb" x1="211" x2="322"/>
<rect class="m12" x="213" y="-8" width="29" height="8"/><rect class="m16" x="251.5" y="-8" width="16" height="8"/></g>
</g>

<g id="legend" class="lgd">
<text class="lt" x="591" y="893.5">Motif1</text><rect class="m1" x="634" y="883.5" width="35" height="11.5"/>
<text class="lt" x="676" y="893.5">Motif2</text><rect class="m2" x="719" y="883.5" width="28" height="11.5"/>
<text class="lt" x="754" y="893.5">Motif3</text><rect class="m3" x="797" y="883.5" width="14" height="11.5"/>
<text class="lt" x="823" y="893.5">Motif4</text><rect class="m4" x="866" y="883.5" width="43" height="11.5"/>
<text class="lt" x="916" y="893.5">Motif5</text><rect class="m5" x="958" y="883.5" width="28" height="11.5"/>
<text class="lt" x="994" y="893.5">Motif17</text><rect class="m17" x="1041" y="883.5" width="23" height="11.5"/>
<text class="lt" x="591" y="936">Motif6</text><rect class="m6" x="636" y="925" width="36" height="12"/>
<text class="lt" x="676" y="936">Motif7</text><rect class="m7" x="720" y="925" width="52" height="12"/>
<text class="lt" x="775" y="936">Motif8</text><rect class="m8" x="818.5" y="928" width="18.5" height="9"/>
<text class="lt" x="846" y="936">Motif9</text><rect class="m9" x="888" y="925" width="38" height="12"/>
<text class="lt" x="929.5" y="936">Motif10</text><rect class="m10" x="982" y="925" width="35" height="12"/>
<text class="lt" x="591" y="980.5">Motif11</text><rect class="m11" x="642.5" y="969.5" width="52.5" height="12"/>
<text class="lt" x="707" y="980.5">Motif12</text><rect class="m12" x="755" y="969.5" width="45" height="12"/>
<text class="lt" x="806.5" y="980.5">Motif13</text><rect class="m13" x="855" y="969.5" width="18" height="12"/>
<text class="lt" x="883" y="980.5">Motif14</text><rect class="m14" x="935" y="969.5" width="65" height="12"/>
<text class="lt" x="1005" y="980.5">Motif16</text><rect class="m16" x="1057" y="969.5" width="31" height="12"/>
<text class="lt" x="591" y="1024">Motif15</text><rect class="m15" x="642" y="1013" width="64" height="12"/>
<text class="lt" x="713" y="1024">Motif18</text><rect class="m18" x="765.5" y="1013" width="19.5" height="12"/>
<text class="lt" x="791" y="1024">Motif19</text><rect class="m19" x="841" y="1013" width="37" height="12"/>
<text class="lt" x="883" y="1024">Motif20</text><rect class="m20" x="936.5" y="1013" width="63.5" height="12"/>
<text class="dt" x="594" y="1076.5">Motif1+motif 2+motif3: C-terminal WRKY domain</text>
<text class="dt" x="594" y="1107">Motif4+ motif 6: N-terminal WRKY domain</text>
</g>

<g id="logo-labels">
<text class="bt" font-size="30" transform="translate(576.5,1191.5) scale(0.784,1)">Motif1</text>
<rect x="645" y="1168.5" width="56" height="28" fill="#ff0000" stroke="#3a2020" stroke-width="1.5"/><rect x="644" y="1168" width="3.5" height="29" fill="#111"/>
<text class="bt" font-size="30" transform="translate(577,1273) scale(0.821,1)">Motif2</text>
<rect x="648.5" y="1250" width="1.5" height="28" fill="#e0a030"/><rect x="651" y="1251" width="48" height="26.5" fill="#22eef2" stroke="#111" stroke-width="2"/><rect x="650" y="1250" width="3.5" height="28.5" fill="#111"/>
<text class="bt" font-size="28" transform="translate(577,1341.5) scale(0.971,1)">Motif3</text>
<rect x="659" y="1318" width="29" height="25" fill="#80e020" stroke="#24401a" stroke-width="1.5"/><rect x="658" y="1317.5" width="4" height="26" fill="#111"/>
<text class="bt" font-size="24" transform="translate(578,1415.5) scale(0.903,1)">Motif4</text>
<rect x="641.5" y="1396" width="63" height="23" fill="#7a10e8" stroke="#111" stroke-width="2"/><rect x="702" y="1395.5" width="3" height="24" fill="#111"/>
</g>

<g id="logo1">
<path class="ax" d="M751.5,1163V1205M749,1163H751.5M749,1173.5H751.5M749,1184H751.5M749,1194.5H751.5M749,1205H751.5"/>
<text class="L cb" transform="matrix(1.94,0,0,5.73,753,1204.5)">C</text>
<text class="L cy" transform="matrix(1.5,0,0,1.05,767,1196)">P</text>
<text class="L cg" transform="matrix(1.385,0,0,.7,767,1201)">A</text>
<text class="L cb" transform="matrix(1.574,0,0,2.52,777,1190)">X</text>
<text class="L cr" transform="matrix(1.454,0,0,1.82,777,1203)">A</text>
<text class="L cr" transform="matrix(1.524,0,0,2.31,787,1190)">R</text>
<text class="L cr" transform="matrix(1.524,0,0,1.54,787,1201)">K</text>
<text class="L cr" transform="matrix(1.8,0,0,5.67,798.5,1204)">K</text>
<text class="L cg" transform="matrix(1.8,0,0,1.5,813,1194)">Q</text>
<text class="L cp" transform="matrix(1.94,0,0,1.19,813,1203.5)">H</text>
<text class="L cb" transform="matrix(1.874,0,0,5.67,827.5,1204)">V</text>
<text class="L cm" transform="matrix(1.724,0,0,3.08,840,1192)">E</text>
<text class="L cg" transform="matrix(1.478,0,0,1.33,840,1201.5)">Q</text>
<text class="L cr" transform="matrix(1.731,0,0,4.06,851.5,1204)">R</text>
<text class="L cg" transform="matrix(1.724,0,0,.84,865,1192)">S</text>
<text class="L cg" transform="matrix(1.593,0,0,.91,865,1198.5)">A</text>
<text class="L cb" transform="matrix(1.593,0,0,.49,865,1202)">C</text>
<text class="L cg" transform="matrix(1.724,0,0,.56,876.5,1199)">S</text>
<text class="L cr" transform="matrix(1.593,0,0,.49,876.5,1202.5)">A</text>
<text class="L cm" transform="matrix(1.799,0,0,1.19,888,1198.5)">E</text>
<text class="L cg" transform="matrix(1.799,0,0,.49,888,1202)">S</text>
<text class="L cm" transform="matrix(1.87,0,0,4.76,900.5,1204)">D</text>
<text class="L cy" transform="matrix(1.649,0,0,.91,914,1195)">P</text>
<text class="L cr" transform="matrix(1.321,0,0,.7,914,1200)">M</text>
<text class="L cg" transform="matrix(1.724,0,0,.7,925,1195)">S</text>
<text class="L cr" transform="matrix(1.593,0,0,.56,925,1199)">A</text>
<text class="L cg" transform="matrix(1.542,0,0,.56,936.5,1197)">Q</text>
<text class="L cm" transform="matrix(1.799,0,0,.56,936.5,1201)">X</text>
<text class="L cb" transform="matrix(1.949,0,0,1.4,948.5,1187)">V</text>
<text class="L cb" transform="matrix(2.128,0,0,1.12,948.5,1195)">L</text>
<text class="L cb" transform="matrix(1.978,0,0,2.1,964.5,1192)">I</text>
<text class="L cb" transform="matrix(1.724,0,0,.91,961.5,1198.5)">V</text>
<text class="L cg" transform="matrix(1.882,0,0,1.61,973.5,1190)">T</text>
<text class="L cb" transform="matrix(1.724,0,0,1.12,973.5,1198)">Y</text>
<text class="L cg" transform="matrix(2.128,0,0,5.74,987,1204)">T</text>
<text class="L ct" transform="matrix(1.724,0,0,5.74,1000.5,1204)">Y</text>
<text class="L cm" transform="matrix(1.649,0,0,3.71,1012.5,1198.5)">E</text>
<text class="L cg" transform="matrix(1.649,0,0,.49,1012.5,1202)">S</text>
<text class="L co" transform="matrix(1.542,0,0,3.5,1024,1197)">G</text>
<text class="L cg" transform="matrix(1.799,0,0,.56,1024,1201)">S</text>
<text class="L cp" transform="matrix(1.454,0,0,.56,1036,1197)">H</text>
<text class="L cg" transform="matrix(1.574,0,0,.56,1036,1201)">S</text>
<text class="L cp" transform="matrix(1.87,0,0,5.74,1046.5,1204)">H</text>
<text class="L cg" transform="matrix(1.593,0,0,2.1,1060,1195)">N</text>
<text class="L cg" transform="matrix(1.593,0,0,.56,1060,1199)">A</text>
<text class="L cb" transform="matrix(1.593,0,0,.7,1060,1204)">C</text>
<text class="L cp" transform="matrix(1.8,0,0,5.74,1072,1204)">H</text>
</g>

<g id="logo2">
<path class="ax" d="M752.5,1239V1284M750,1239H752.5M750,1250H752.5M750,1261.5H752.5M750,1273H752.5M750,1284H752.5"/>
<text class="L cb" transform="matrix(1.309,0,0,.77,753.5,1273)">L</text>
<text class="L cy" transform="matrix(1.199,0,0,.42,753.5,1276)">P</text>
<text class="L cb" transform="matrix(1.199,0,0,.7,753.5,1281)">V</text>
<text class="L cg" transform="matrix(1.199,0,0,.98,761.5,1281)">S</text>
<text class="L cm" transform="matrix(1.949,0,0,.98,770,1273)">P</text>
<text class="L cg" transform="matrix(1.801,0,0,.7,770,1278)">A</text>
<text class="L cb" transform="matrix(2.128,0,0,.56,770,1282)">T</text>
<text class="L cm" transform="matrix(1.87,0,0,6.19,786.5,1283.5)">D</text>
<text class="L co" transform="matrix(1.735,0,0,2.48,801.5,1272)">G</text>
<text class="L cm" transform="matrix(2.024,0,0,.7,801.5,1277)">E</text>
<text class="L cg" transform="matrix(2.024,0,0,.56,801.5,1281)">S</text>
<text class="L ct" transform="matrix(1.874,0,0,1.88,815,1267.7)">Y</text>
<text class="L cb" transform="matrix(1.324,0,0,1.16,815,1276)">W</text>
<text class="L cg" transform="matrix(1.8,0,0,.98,833,1271)">G</text>
<text class="L cr" transform="matrix(1.939,0,0,.7,833,1276)">R</text>
<text class="L cg" transform="matrix(1.8,0,0,.7,833,1281)">Q</text>
<text class="L cb" transform="matrix(1.748,0,0,6.27,850,1283.5)">W</text>
<text class="L cr" transform="matrix(1.939,0,0,6.27,867.5,1283.5)">R</text>
<text class="L cr" transform="matrix(1.87,0,0,6.27,881.5,1283.5)">K</text>
<text class="L ct" transform="matrix(2.249,0,0,6.27,896.5,1283.5)">Y</text>
<text class="L co" transform="matrix(1.928,0,0,6.27,911.5,1283.5)">G</text>
<text class="L cg" transform="matrix(1.671,0,0,5.43,927,1281)">Q</text>
<text class="L cr" transform="matrix(2.285,0,0,5.95,940,1283.5)">K</text>
<text class="L cb" transform="matrix(2.249,0,0,.7,961.5,1277.5)">X</text>
<text class="L cm" transform="matrix(2.249,0,0,.49,961.5,1281)">V</text>
<text class="L cb" transform="matrix(1.799,0,0,3.5,980,1281)">Y</text>
<text class="L cr" transform="matrix(1.801,0,0,3.28,993.5,1272.7)">K</text>
<text class="L cg" transform="matrix(1.801,0,0,1.12,993.5,1281)">N</text>
<text class="L co" transform="matrix(1.735,0,0,2.1,1010,1266)">G</text>
<text class="L cg" transform="matrix(1.87,0,0,1.82,1010,1279)">N</text>
<text class="L cg" transform="matrix(1.499,0,0,1.88,1023.5,1267.7)">S</text>
<text class="L cg" transform="matrix(1.385,0,0,1.58,1023.5,1279)">N</text>
<text class="L cy" transform="matrix(1.724,0,0,1.88,1033.5,1272.7)">P</text>
<text class="L cr" transform="matrix(1.593,0,0,.6,1033.5,1277)">K</text>
<text class="L cm" transform="matrix(1.724,0,0,.56,1033.5,1281)">S</text>
<text class="L ct" transform="matrix(2.249,0,0,.77,1048,1269.5)">Y</text>
<text class="L cp" transform="matrix(2.249,0,0,.56,1048,1273.5)">S</text>
<text class="L cb" transform="matrix(2.249,0,0,.63,1048,1278)">E</text>
<text class="L cg" transform="matrix(2.249,0,0,.42,1048,1281)">S</text>
</g>

<g id="logo3">
<path class="ax" d="M748.5,1309V1353M746,1309H748.5M746,1320H748.5M746,1331H748.5M746,1342H748.5M746,1353H748.5"/>
<line x1="757.5" y1="1310" x2="757.5" y2="1353" stroke="#111" stroke-width="1.6"/>
<text class="L cy" transform="matrix(4.198,0,0,6.22,758.5,1352.7)">P</text>
<text class="L cr" transform="matrix(3.463,0,0,6.22,786.5,1352.7)">R</text>
<text class="L cg" transform="matrix(3.748,0,0,1.22,813,1338)">S</text>
<text class="L cb" transform="matrix(3.748,0,0,.7,813,1343)">X</text>
<text class="L co" transform="matrix(3.213,0,0,.7,813,1348)">G</text>
<text class="L cg" transform="matrix(3.748,0,0,.66,813,1352.7)">S</text>
<text class="L ct" transform="matrix(3.748,0,0,6.36,842,1352.7)">Y</text>
<text class="L ct" transform="matrix(3.448,0,0,5.43,868.5,1349.5)">Y</text>
<text class="L cb" transform="matrix(3.764,0,0,.49,868.5,1353)">L</text>
<text class="L cr" transform="matrix(3.601,0,0,2.58,894,1341.7)">R</text>
<text class="L cr" transform="matrix(3.601,0,0,1.58,894,1353)">K</text>
<text class="L cb" transform="matrix(3.532,0,0,6.1,921.5,1352.7)">C</text>
<text class="L cg" transform="matrix(4.337,0,0,2.8,948.5,1333.3)">T</text>
<text class="L cg" transform="matrix(3.973,0,0,2.2,948.5,1349)">S</text>
<text class="L cb" transform="matrix(3.67,0,0,.52,948.5,1352.7)">N</text>
<text class="L cg" transform="matrix(3.342,0,0,.7,977,1345)">Q</text>
<text class="L cb" transform="matrix(3.898,0,0,.42,977,1348)">V</text>
<text class="L cr" transform="matrix(3.601,0,0,.35,977,1350.5)">R</text>
<text class="L cy" transform="matrix(3.898,0,0,.31,977,1352.7)">P</text>
<text class="L cg" transform="matrix(3.67,0,0,.7,1003.5,1348)">A</text>
<text class="L cb" transform="matrix(3.973,0,0,.35,1003.5,1350.5)">V</text>
<text class="L cr" transform="matrix(3.67,0,0,.31,1003.5,1352.7)">R</text>
<text class="L cm" transform="matrix(3.67,0,0,.49,1030,1344)">N</text>
<text class="L cr" transform="matrix(3.67,0,0,.42,1030,1347)">R</text>
<text class="L cy" transform="matrix(3.973,0,0,.42,1030,1350)">P</text>
<text class="L co" transform="matrix(3.406,0,0,.38,1030,1352.7)">G</text>
</g>

<g id="logo4">
<path class="ax" d="M752,1385V1431M749.5,1385H752M749.5,1396.5H752M749.5,1408H752M749.5,1419.5H752M749.5,1431H752"/>
<text class="L cm" transform="matrix(1.427,0,0,6.44,754,1431)">D</text>
<text class="L co" transform="matrix(1.324,0,0,6.44,764.3,1431)">G</text>
<text class="L ct" transform="matrix(1.544,0,0,6.44,774.6,1431)">Y</text>
<text class="L cg" transform="matrix(1.427,0,0,5.18,784.9,1424)">N</text>
<text class="L cg" transform="matrix(1.686,0,0,.98,784.9,1431)">T</text>
<text class="L cb" transform="matrix(1.091,0,0,6.44,795.2,1431)">W</text>
<text class="L cr" transform="matrix(1.427,0,0,6.44,805.5,1431)">R</text>
<text class="L cr" transform="matrix(1.427,0,0,6.44,815.8,1431)">K</text>
<text class="L ct" transform="matrix(1.544,0,0,6.44,826.1,1431)">Y</text>
<text class="L co" transform="matrix(1.324,0,0,6.44,836.4,1431)">G</text>
<text class="L cg" transform="matrix(1.324,0,0,6.02,846.7,1428)">Q</text>
<text class="L cr" transform="matrix(1.427,0,0,4.9,857,1427)">K</text>
<text class="L cg" transform="matrix(1.427,0,0,.56,857,1431)">N</text>
<text class="L cg" transform="matrix(1.324,0,0,1.25,867.3,1407)">Q</text>
<text class="L cb" transform="matrix(1.427,0,0,1.4,867.3,1418)">K</text>
<text class="L cr" transform="matrix(1.427,0,0,.84,867.3,1424)">R</text>
<text class="L cg" transform="matrix(1.427,0,0,.84,867.3,1430)">A</text>
<text class="L cb" transform="matrix(1.544,0,0,6.02,877.6,1430)">V</text>
<text class="L cr" transform="matrix(1.427,0,0,3.22,887.9,1420)">K</text>
<text class="L cr" transform="matrix(1.427,0,0,.84,887.9,1426)">A</text>
<text class="L cg" transform="matrix(1.544,0,0,.56,887.9,1430)">S</text>
<text class="L co" transform="matrix(1.324,0,0,2.8,898.2,1418)">G</text>
<text class="L cr" transform="matrix(1.427,0,0,.84,898.2,1424)">A</text>
<text class="L cg" transform="matrix(1.544,0,0,.7,898.2,1429)">S</text>
<text class="L cg" transform="matrix(1.544,0,0,1.4,908.5,1416)">S</text>
<text class="L cg" transform="matrix(1.427,0,0,.84,908.5,1422)">N</text>
<text class="L cr" transform="matrix(1.427,0,0,.56,908.5,1426)">A</text>
<text class="L cg" transform="matrix(1.686,0,0,.56,908.5,1430)">T</text>
<text class="L cm" transform="matrix(1.544,0,0,1.68,918.8,1418)">E</text>
<text class="L cg" transform="matrix(1.427,0,0,.7,918.8,1423)">N</text>
<text class="L cb" transform="matrix(1.427,0,0,.56,918.8,1427)">C</text>
<text class="L cg" transform="matrix(1.686,0,0,.42,918.8,1430)">T</text>
<text class="L ct" transform="matrix(1.544,0,0,1.12,929.1,1416)">Y</text>
<text class="L cg" transform="matrix(1.427,0,0,1.12,929.1,1424)">N</text>
<text class="L cg" transform="matrix(1.686,0,0,.98,929.1,1431)">T</text>
<text class="L cy" transform="matrix(1.544,0,0,3.5,939.4,1421)">P</text>
<text class="L cg" transform="matrix(1.686,0,0,1.26,939.4,1430)">T</text>
<text class="L cr" transform="matrix(1.427,0,0,5.04,949.7,1431)">R</text>
<text class="L cg" transform="matrix(1.544,0,0,5.32,960,1431)">S</text>
<text class="L ct" transform="matrix(1.544,0,0,6.44,970.3,1431)">Y</text>
<text class="L ct" transform="matrix(1.544,0,0,6.44,980.6,1431)">Y</text>
<text class="L cr" transform="matrix(1.427,0,0,5.74,990.9,1427)">K</text>
<text class="L cg" transform="matrix(1.427,0,0,.56,990.9,1431)">N</text>
<text class="L cb" transform="matrix(1.427,0,0,6.44,1001.2,1431)">C</text>
<text class="L cg" transform="matrix(1.686,0,0,5.04,1011.5,1424)">T</text>
<text class="L cb" transform="matrix(1.427,0,0,.98,1011.5,1431)">A</text>
<text class="L cp" transform="matrix(1.427,0,0,1.96,1021.8,1415)">H</text>
<text class="L ct" transform="matrix(1.544,0,0,1.12,1021.8,1423)">Y</text>
<text class="L cg" transform="matrix(1.544,0,0,.7,1021.8,1428)">S</text>
<text class="L cy" transform="matrix(1.544,0,0,1.4,1032.1,1415)">P</text>
<text class="L cb" transform="matrix(1.544,0,0,.98,1032.1,1422)">X</text>
<text class="L cr" transform="matrix(1.427,0,0,.7,1032.1,1427)">K</text>
<text class="L cg" transform="matrix(1.427,0,0,3.08,1042.4,1422)">N</text>
<text class="L cr" transform="matrix(1.427,0,0,.84,1042.4,1428)">K</text>
<text class="L cb" transform="matrix(1.427,0,0,6.16,1052.7,1430)">C</text>
<text class="L cy" transform="matrix(1.544,0,0,2.1,1063,1420)">P</text>
<text class="L cg" transform="matrix(1.544,0,0,.56,1063,1424)">S</text>
<text class="L cb" transform="matrix(1.686,0,0,.84,1063,1430)">T</text>
<text class="L cb" transform="matrix(1.544,0,0,2.94,1073.3,1418)">X</text>
<text class="L cb" transform="matrix(1.427,0,0,.84,1073.3,1424)">A</text>
<text class="L cg" transform="matrix(1.686,0,0,.98,1073.3,1431)">T</text>
</g>
</svg>
